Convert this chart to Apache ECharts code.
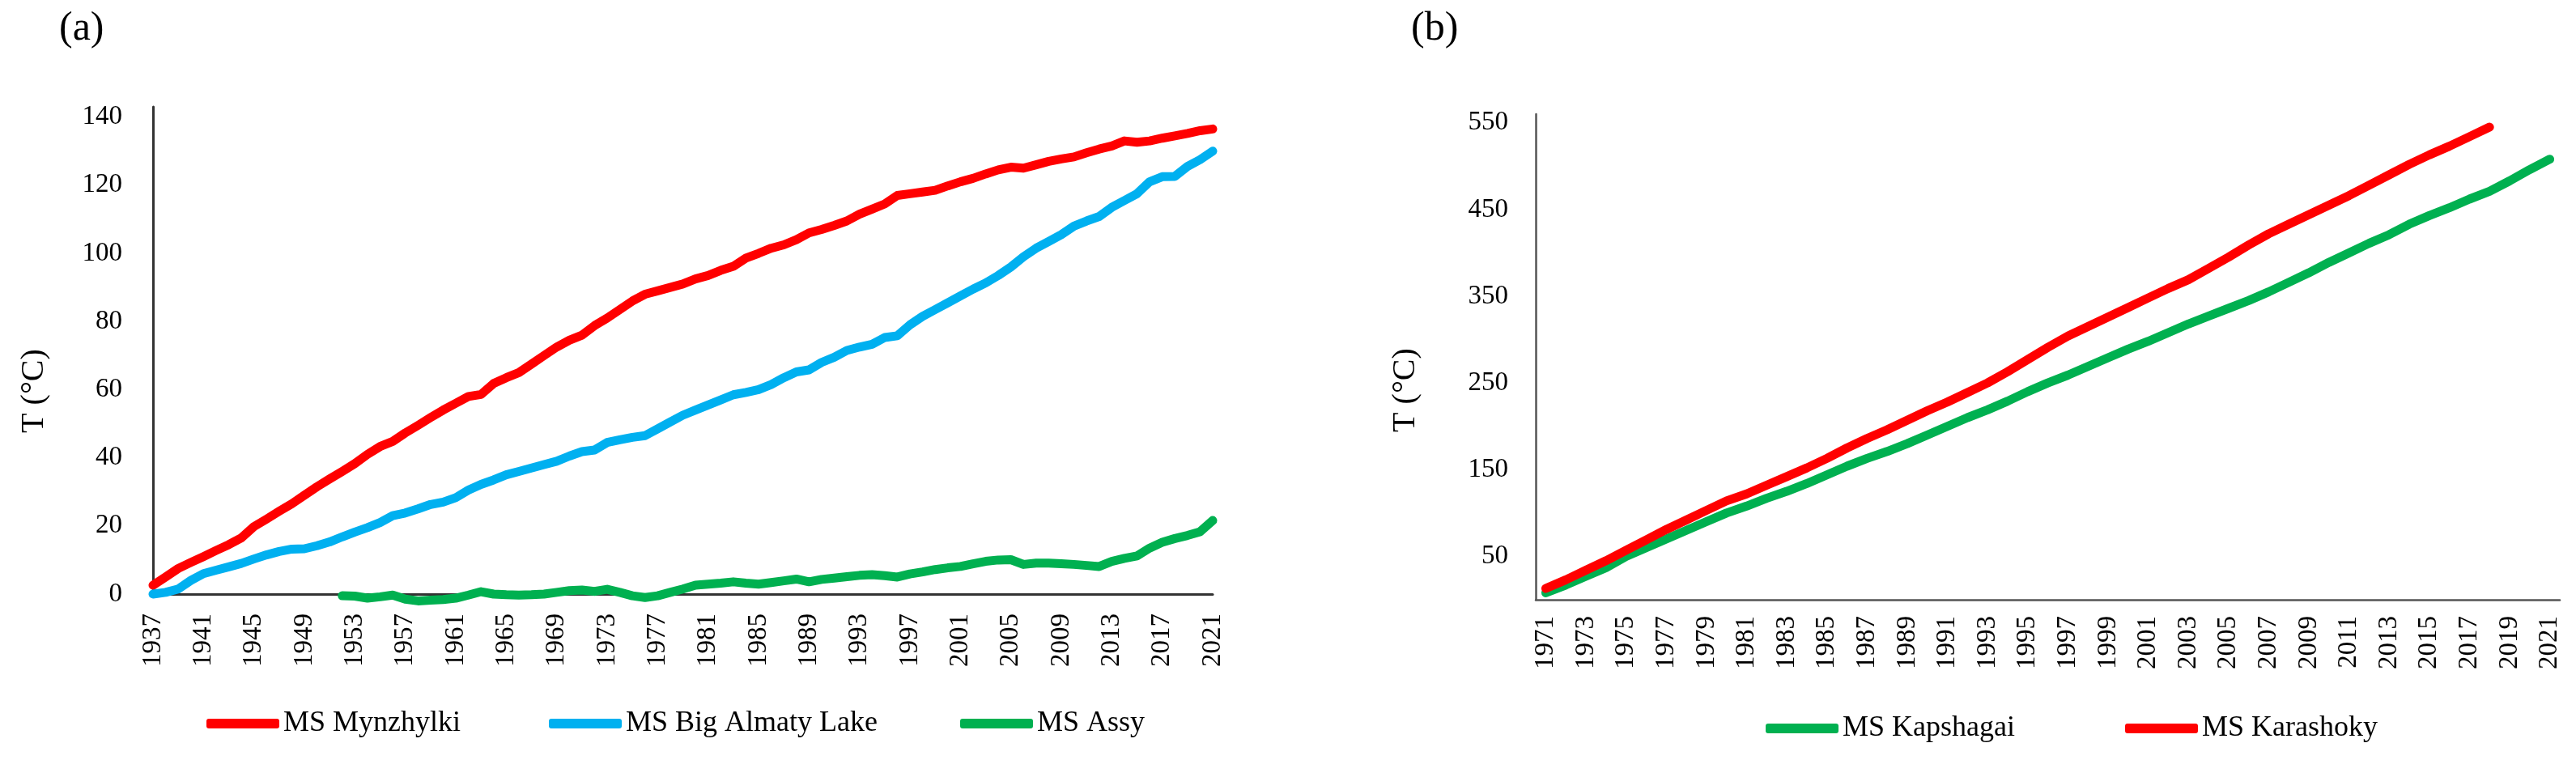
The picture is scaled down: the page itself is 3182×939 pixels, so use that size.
<!DOCTYPE html>
<html>
<head>
<meta charset="utf-8">
<script src="https://cdn.jsdelivr.net/npm/echarts@6/dist/echarts.min.js"></script>
<style>
html,body{margin:0;padding:0;background:#fff;}
#chart{width:3182px;height:939px;}
</style>
</head>
<body>
<div id="chart"></div>
<script>
// ---- Panel (a) data ----
const yearsA = ['1937','1938','1939','1940','1941','1942','1943','1944','1945','1946',
'1947','1948','1949','1950','1951','1952','1953','1954','1955','1956',
'1957','1958','1959','1960','1961','1962','1963','1964','1965','1966',
'1967','1968','1969','1970','1971','1972','1973','1974','1975','1976',
'1977','1978','1979','1980','1981','1982','1983','1984','1985','1986',
'1987','1988','1989','1990','1991','1992','1993','1994','1995','1996',
'1997','1998','1999','2000','2001','2002','2003','2004','2005','2006',
'2007','2008','2009','2010','2011','2012','2013','2014','2015','2016',
'2017','2018','2019','2020','2021'];

const mynzhylki = [2.6,5,7.5,9.3,11,12.8,14.5,16.5,19.8,22,
24.3,26.5,29,31.5,33.8,36,38.3,41,43.3,44.8,
47.3,49.5,51.8,54,56,58,58.6,61.8,63.5,65,
67.5,70,72.5,74.5,76,78.8,81,83.5,86,88,
89,90,91,92.5,93.5,95,96.2,98.6,100,101.5,
102.5,104,106,107,108.2,109.5,111.5,113,114.5,117,
117.5,118,118.5,119.8,121,122,123.3,124.5,125.3,125,
126,127,127.7,128.3,129.5,130.6,131.5,133,132.6,133,
133.8,134.5,135.2,136,136.5];

const bigAlmatyLake = [0,0.5,1.5,4,6,7,8,9,10.3,11.5,
12.5,13.2,13.3,14.2,15.3,16.8,18.2,19.5,21,23,
23.8,25,26.3,27,28.3,30.5,32.2,33.5,35,36,
37,38,39,40.5,41.8,42.3,44.5,45.3,46,46.5,
48.5,50.5,52.5,54,55.5,57,58.5,59.2,60,61.5,
63.5,65.2,65.8,68,69.5,71.5,72.5,73.3,75.3,75.8,
79,81.5,83.5,85.5,87.5,89.5,91.3,93.5,96,99,
101.5,103.5,105.5,108,109.5,110.8,113.5,115.5,117.5,121,
122.5,122.6,125.5,127.5,130];

const assy = [null,null,null,null,null,null,null,null,null,null,
null,null,null,null,null,-0.5,-0.6,-1.2,-0.8,-0.3,
-1.5,-2,-1.8,-1.6,-1.2,-0.3,0.7,0,-0.2,-0.3,
-0.2,0,0.5,1,1.2,0.8,1.4,0.5,-0.5,-1,
-0.5,0.5,1.5,2.6,2.9,3.2,3.6,3.2,2.9,3.4,
3.9,4.4,3.6,4.3,4.7,5.1,5.5,5.7,5.4,5.0,
5.9,6.5,7.2,7.7,8.1,8.9,9.6,10,10.1,8.7,
9.1,9.1,8.9,8.7,8.4,8.1,9.6,10.5,11.2,13.5,
15.2,16.3,17.2,18.3,21.6];

const ticksA = [0,20,40,60,80,100,120,140];

// ---- Panel (b) data ----
const yearsB = ['1971','1972','1973','1974','1975','1976','1977','1978','1979','1980',
'1981','1982','1983','1984','1985','1986','1987','1988','1989','1990',
'1991','1992','1993','1994','1995','1996','1997','1998','1999','2000',
'2001','2002','2003','2004','2005','2006','2007','2008','2009','2010',
'2011','2012','2013','2014','2015','2016','2017','2018','2019','2020','2021'];

const kapshagai = [8,17,27,37,50,60,70,80,90,100,
108,117,125,134,144,154,163,171,180,190,
200,210,219,229,240,250,259,269,279,289,
298,308,318,327,336,345,355,366,377,389,
400,411,421,433,443,452,462,471,483,496,508];

const karashoky = [13,23,34,45,57,69,81,92,103,114,
122,132,142,152,163,175,186,196,207,218,
228,239,250,263,277,291,304,315,326,337,
348,359,369,382,395,409,422,433,444,455,
466,478,490,502,513,523,534,545,null,null,null];

const ticksB = [50,150,250,350,450,550];

// ---- Chart ----
const FONT = '"Liberation Serif", "Times New Roman", serif';
const chart = echarts.init(document.getElementById('chart'), null, {renderer:'canvas'});

const axisLineA = {show:true, lineStyle:{color:'#333', width:3}};
const axisLineB = {show:true, lineStyle:{color:'#555', width:2.5}};
const LW = 11;

const option = {
  backgroundColor:'#fff',
  animation:false,
  title:[
    {text:'(a)', left:68, top:6, textStyle:{fontFamily:FONT, fontSize:50, fontWeight:'normal', color:'#000'}},
    {text:'(b)', left:1738, top:6, textStyle:{fontFamily:FONT, fontSize:50, fontWeight:'normal', color:'#000'}}
  ],
  graphic:[
    {type:'text', x:42, y:483, rotation:Math.PI/2,
     style:{text:'T (°C)', font:'40px ' + FONT, fill:'#000', align:'center', verticalAlign:'middle'}},
    {type:'text', x:1736, y:482, rotation:Math.PI/2,
     style:{text:'T (°C)', font:'40px ' + FONT, fill:'#000', align:'center', verticalAlign:'middle'}}
  ],
  legend:[
    {data:['MS Mynzhylki'], left:250, top:871, icon:'roundRect', itemWidth:90, itemHeight:12,
     textStyle:{fontFamily:FONT, fontSize:36, color:'#000'}},
    {data:['MS Big Almaty Lake'], left:673, top:871, icon:'roundRect', itemWidth:90, itemHeight:12,
     textStyle:{fontFamily:FONT, fontSize:36, color:'#000'}},
    {data:['MS Assy'], left:1181, top:871, icon:'roundRect', itemWidth:90, itemHeight:12,
     textStyle:{fontFamily:FONT, fontSize:36, color:'#000'}},
    {data:['MS Kapshagai'], left:2176, top:877, icon:'roundRect', itemWidth:90, itemHeight:12,
     textStyle:{fontFamily:FONT, fontSize:36, color:'#000'}},
    {data:['MS Karashoky'], left:2620, top:877, icon:'roundRect', itemWidth:90, itemHeight:12,
     textStyle:{fontFamily:FONT, fontSize:36, color:'#000'}}
  ],
  grid:[
    {left:189, right:1684, top:132, bottom:205, containLabel:false},
    {left:1897, right:20, top:141, bottom:198, containLabel:false}
  ],
  xAxis:[
    {type:'category', gridIndex:0, data:yearsA, boundaryGap:false,
     axisLine:axisLineA, axisTick:{show:false}, splitLine:{show:false},
     axisLabel:{interval:3, rotate:90, margin:24, fontFamily:FONT, fontSize:33, color:'#000'}},
    {type:'category', gridIndex:1, data:yearsB, boundaryGap:true,
     axisLine:axisLineB, axisTick:{show:false}, splitLine:{show:false},
     axisLabel:{interval:1, rotate:90, margin:20, fontFamily:FONT, fontSize:33, color:'#000'}}
  ],
  yAxis:[
    {type:'value', gridIndex:0, min:0, max:143, interval:20,
     axisLine:axisLineA, axisTick:{show:false}, splitLine:{show:false},
     axisLabel:{margin:38, fontFamily:FONT, fontSize:33, color:'#000',
       formatter:function(v){return ticksA.indexOf(v) >= 0 ? String(v) : '';}}},
    {type:'value', gridIndex:1, min:0, max:560, interval:50,
     axisLine:axisLineB, axisTick:{show:false}, splitLine:{show:false},
     axisLabel:{margin:34, fontFamily:FONT, fontSize:33, color:'#000',
       formatter:function(v){return ticksB.indexOf(v) >= 0 ? String(v) : '';}}}
  ],
  series:[
    {name:'MS Mynzhylki', type:'line', xAxisIndex:0, yAxisIndex:0, data:mynzhylki,
     showSymbol:false, clip:false, color:'#FF0000', lineStyle:{width:LW, cap:'round', join:'round'}},
    {name:'MS Big Almaty Lake', type:'line', xAxisIndex:0, yAxisIndex:0, data:bigAlmatyLake,
     showSymbol:false, clip:false, color:'#00B0F0', lineStyle:{width:LW, cap:'round', join:'round'}},
    {name:'MS Assy', type:'line', xAxisIndex:0, yAxisIndex:0, data:assy,
     showSymbol:false, clip:false, color:'#00B050', lineStyle:{width:LW, cap:'round', join:'round'}},
    {name:'MS Kapshagai', type:'line', xAxisIndex:1, yAxisIndex:1, data:kapshagai,
     showSymbol:false, clip:false, color:'#00B050', lineStyle:{width:LW, cap:'round', join:'round'}},
    {name:'MS Karashoky', type:'line', xAxisIndex:1, yAxisIndex:1, data:karashoky,
     showSymbol:false, clip:false, color:'#FF0000', lineStyle:{width:LW, cap:'round', join:'round'}}
  ]
};
chart.setOption(option);
</script>
</body>
</html>
